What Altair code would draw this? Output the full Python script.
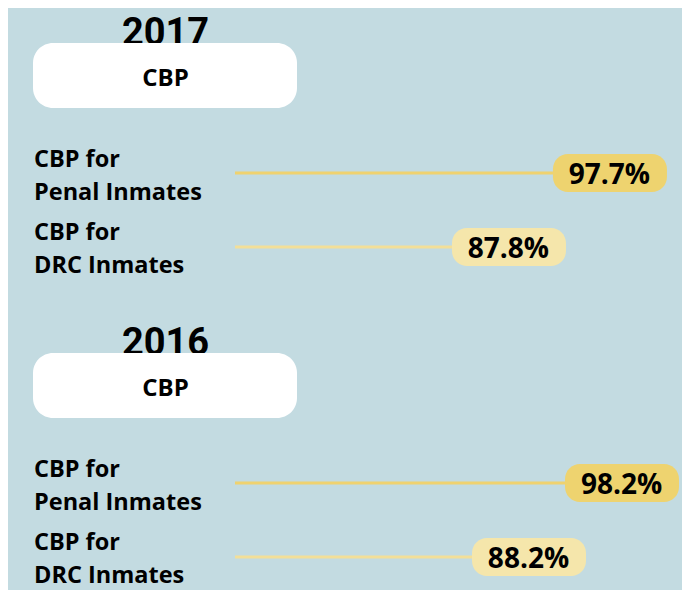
import altair as alt
import pandas as pd

# ---- data ----
years = ["2017", "2016"]
group_name = "CBP"
row_ids = ["penal", "drc"]
row_labels = ["CBP for\nPenal Inmates", "CBP for\nDRC Inmates"]
values_2017 = [97.7, 87.8]
values_2016 = [98.2, 88.2]

# ---- styling ----
BG = "#c3dbe1"
FONT = "Open Sans"
YEAR_FONT = "Roboto"
box_colors = ["#eed36f", "#f5e6ab"]
rule_colors = ["#efd26f", "#f3df98"]
x_domains = {"2017": [44.28, 110.35], "2016": [38.31, 110.78]}
panel_heights = {"2017": 310, "2016": 272}
W = 674


def panel(year, vals):
    df = pd.DataFrame({"row": row_ids, "label": row_labels, "value": vals})
    hdr = pd.DataFrame({"year": [year], "group": [group_name]})

    xs = alt.Scale(domain=x_domains[year], nice=False, zero=False)
    ys = alt.Scale(type="band", domain=row_ids, range=[146, 258],
                   paddingInner=0.486, paddingOuter=0)
    Y = alt.Y("row:N", scale=ys, axis=None)
    X = alt.X("value:Q", scale=xs, axis=None)
    fill = alt.Color("row:N", scale=alt.Scale(domain=row_ids, range=box_colors), legend=None)
    stroke = alt.Color("row:N", scale=alt.Scale(domain=row_ids, range=rule_colors), legend=None)

    base = alt.Chart(df)
    head = alt.Chart(hdr)

    year_txt = head.mark_text(font=YEAR_FONT, fontWeight="bold", fontSize=38,
                              align="center", baseline="alphabetic", color="#000").encode(
        x=alt.value(157.5), y=alt.value(36.5), text="year:N")
    box = head.mark_rect(color="white", cornerRadius=20).encode(
        x=alt.value(25), x2=alt.value(289), y=alt.value(35), y2=alt.value(100))
    grp_txt = head.mark_text(font=FONT, fontWeight="bold", fontSize=24,
                             align="center", baseline="alphabetic", color="#000").encode(
        x=alt.value(157.5), y=alt.value(78), text="group:N")

    labels = base.mark_text(font=FONT, fontWeight="bold", fontSize=23.5, lineHeight=33,
                            lineBreak="\n", align="left", baseline="alphabetic",
                            color="#000", dy=-6.5).encode(
        x=alt.value(26), y=Y, text="label:N")

    rules = base.mark_rule(strokeWidth=3).encode(
        x=X, x2=alt.value(227), y=Y, color=stroke)

    boxes = base.mark_rect(cornerRadius=15, x2Offset=114).encode(
        x=X, x2="value:Q", y=Y, color=fill)

    vtext = base.transform_calculate(
        txt="format(datum.value, '.1f') + '%'"
    ).mark_text(font=FONT, fontWeight="bold", fontSize=28, align="center",
                baseline="alphabetic", color="#000", xOffset=56.5, dy=11).encode(
        x=X, y=Y, text="txt:N")

    return alt.layer(year_txt, box, grp_txt, labels, rules, boxes, vtext).resolve_scale(
        color="independent"
    ).properties(width=W, height=panel_heights[year])


chart = alt.vconcat(
    panel("2017", values_2017),
    panel("2016", values_2016),
    spacing=0,
).properties(padding=0, background=BG).configure_view(stroke=None)

chart.save("out.html", embed_options={"renderer": "svg", "actions": False})
